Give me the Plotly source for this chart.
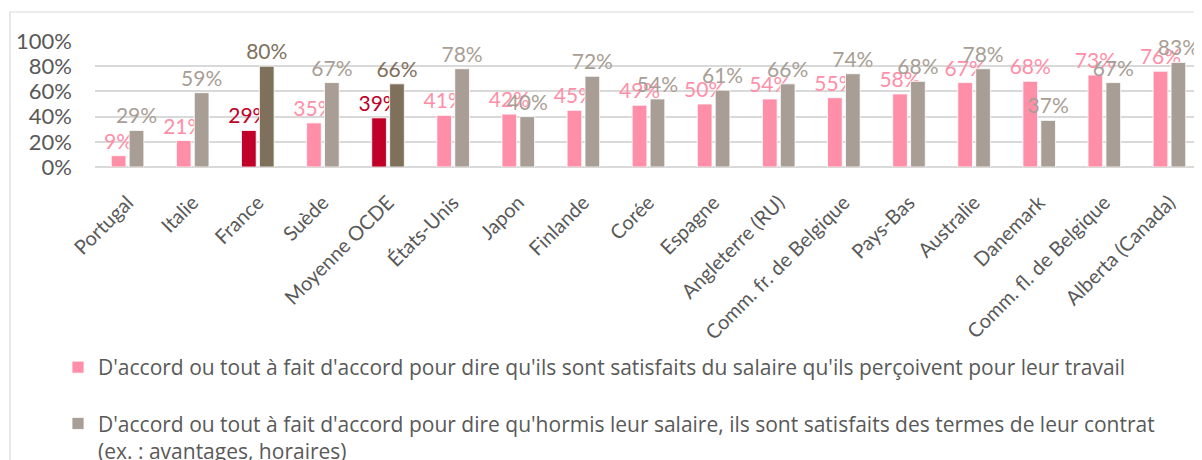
import plotly.graph_objects as go

categories = ["Portugal", "Italie", "France", "Suède", "Moyenne OCDE", "États-Unis", "Japon",
              "Finlande", "Corée", "Espagne", "Angleterre (RU)", "Comm. fr. de Belgique",
              "Pays-Bas", "Australie", "Danemark", "Comm. fl. de Belgique", "Alberta (Canada)"]
salaire = [0.09, 0.21, 0.29, 0.35, 0.39, 0.41, 0.42, 0.45, 0.49, 0.50, 0.54, 0.55, 0.58, 0.67, 0.68, 0.73, 0.76]
contrat = [0.29, 0.59, 0.80, 0.67, 0.66, 0.78, 0.40, 0.72, 0.54, 0.61, 0.66, 0.74, 0.68, 0.78, 0.37, 0.67, 0.83]
highlight = ["France", "Moyenne OCDE"]
y_ticks = [0, 0.2, 0.4, 0.6, 0.8, 1.0]
y_tick_text = ["0%", "20%", "40%", "60%", "80%", "100%"]

name1 = "D'accord ou tout à fait d'accord pour dire qu'ils sont satisfaits du salaire qu'ils perçoivent pour leur travail"
name2 = ("D'accord ou tout à fait d'accord pour dire qu'hormis leur salaire, ils sont satisfaits des termes de leur contrat"
         "<br>(ex. : avantages, horaires)")

PINK, PINK_HI = "#FF8FA8", "#C00029"
GRAY, GRAY_HI = "#A89E95", "#7F705C"

c1 = [PINK_HI if c in highlight else PINK for c in categories]
c2 = [GRAY_HI if c in highlight else GRAY for c in categories]

FONT = "Lato"
W, H = 1202, 460

fig = go.Figure()
fig.add_bar(x=categories, y=salaire, name=name1, legendgroup="a",
            marker=dict(color=c1, line=dict(color="white", width=0.8)),
            texttemplate="%{y:.0%}", textposition="outside", cliponaxis=False,
            constraintext="none",
            textfont=dict(color=c1, size=21, family=FONT))
fig.add_bar(x=categories, y=contrat, name=name2, legendgroup="b",
            marker=dict(color=c2, line=dict(color="white", width=0.8)),
            texttemplate="%{y:.0%}", textposition="outside", cliponaxis=False,
            constraintext="none",
            textfont=dict(color=c2, size=21, family=FONT))

fig.update_layout(
    width=W, height=H,
    margin=dict(l=87, r=8, t=33, b=301, autoexpand=False),
    paper_bgcolor="white", plot_bgcolor="white",
    barmode="group", bargap=0.45, bargroupgap=0.18,
    font=dict(family=FONT, color="#595959"),
    xaxis=dict(tickangle=-45, tickfont=dict(size=20, color="#595959", family=FONT),
               showgrid=False, ticks="", showline=False, fixedrange=True,
               automargin=False, ticklabelstandoff=19),
    yaxis=dict(range=[0, 1], tickvals=y_ticks, ticktext=y_tick_text,
               tickfont=dict(size=22, color="#595959", family=FONT),
               showgrid=True, gridcolor="#D9D9D9", gridwidth=1.5,
               zeroline=True, zerolinecolor="#D9D9D9", zerolinewidth=1.5,
               ticks="", ticklabelstandoff=22, fixedrange=True, automargin=False),
    legend=dict(orientation="v", xref="container", yref="container",
                x=50 / W, xanchor="left", y=1 - 339 / H, yanchor="top",
                font=dict(size=21, color="#595959", family="Open Sans"),
                tracegroupgap=26, bgcolor="rgba(0,0,0,0)", traceorder="grouped",
                valign="top"),
    showlegend=True,
    shapes=[dict(type="rect", xref="paper", yref="paper",
                 x0=-0.0768, x1=1.05, y0=-2.6, y1=1.23,
                 line=dict(color="#D9D9D9", width=1.2), fillcolor="rgba(0,0,0,0)", layer="below")],
)

fig.write_html("out.html")
